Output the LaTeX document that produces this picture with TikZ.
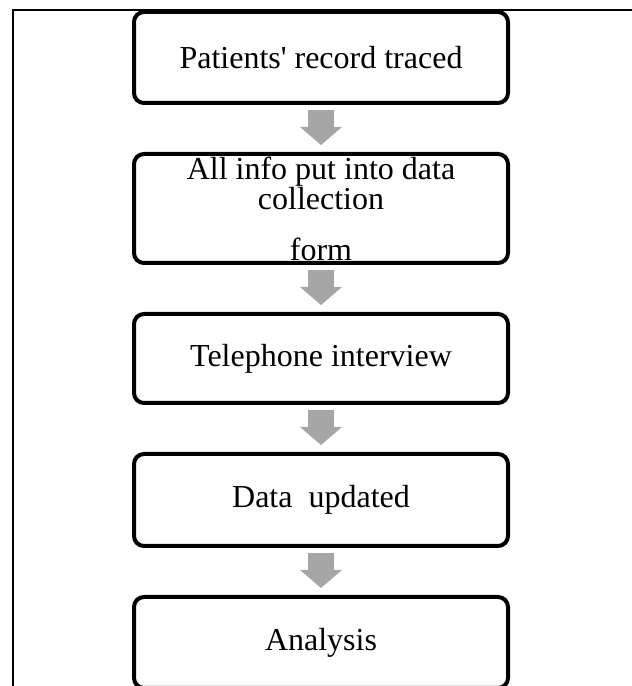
\documentclass[tikz,border=0pt]{standalone}
\usepackage{fontspec}
\setmainfont{Liberation Serif}
\usetikzlibrary{arrows.meta}
\definecolor{arrowgray}{RGB}{166,166,166}
\begin{document}
\begin{tikzpicture}[x=1pt,y=1pt,
  flowbox/.style={draw,fill=white,line width=4pt,rounded corners=10pt,
    minimum width=374pt,inner sep=0pt,align=center,
    font=\fontsize{32}{28}\selectfont},
  blockarrow/.style={arrowgray,line width=26pt,
    -{Triangle[width=41pt,length=18pt]},shorten <=5pt,shorten >=7pt}]
\useasboundingbox (0,0) rectangle (632,686);
\draw[line width=1.5pt] (13,-5) -- (13,676) -- (640,676);
\node[flowbox,minimum height=91pt] (record) at (321,628.5) {Patients\textquotesingle\ record traced};
\node[flowbox,minimum height=109pt] (form) at (321,477.5) {All info put into data\\collection\\[23pt]form};
\node[flowbox,minimum height=89pt] (phone) at (321,327.5) {Telephone interview};
\node[flowbox,minimum height=92pt] (update) at (321,186) {Data\ \ updated};
\node[flowbox,minimum height=91pt] (analysis) at (321,43.5) {Analysis};
\draw[blockarrow] (record.south) -- (form.north);
\draw[blockarrow] (form.south) -- (phone.north);
\draw[blockarrow] (phone.south) -- (update.north);
\draw[blockarrow] (update.south) -- (analysis.north);
\end{tikzpicture}
\end{document}
